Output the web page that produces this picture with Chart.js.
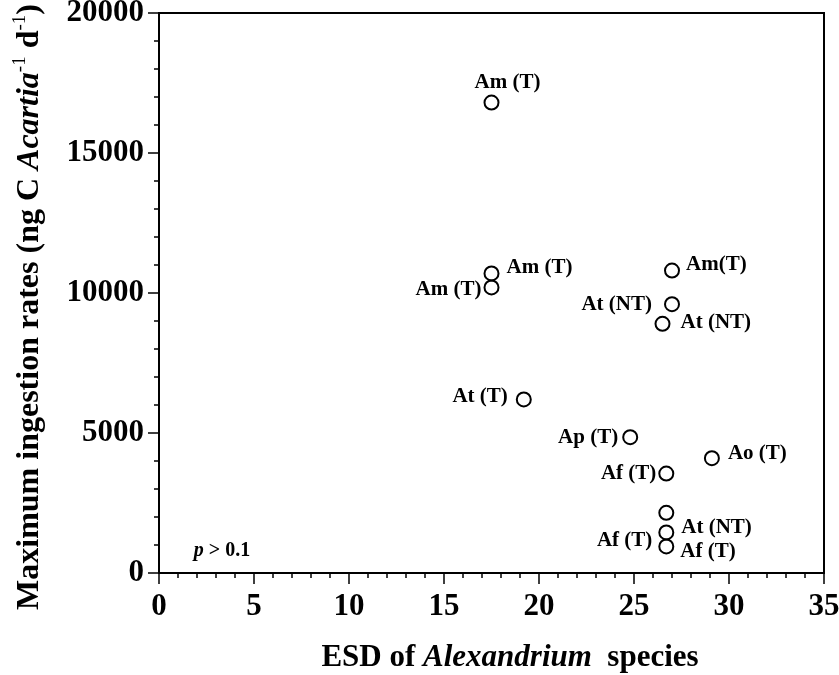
<!DOCTYPE html>
<html>
<head>
<meta charset="utf-8">
<script src="https://cdn.jsdelivr.net/npm/chart.js@4.4.1/dist/chart.umd.min.js"></script>
<style>
  body { margin: 0; background: #fff; }
  canvas { display: block; }
</style>
</head>
<body>
<canvas id="myChart" width="839" height="675"></canvas>
<script>
// Data
const esd = [17.5, 17.5, 17.5, 27.0, 27.0, 26.5, 19.2, 24.8, 29.1, 26.7, 26.7, 26.7, 26.7];
const ingestion = [16800, 10700, 10200, 10800, 9600, 8900, 6200, 4850, 4100, 3550, 2150, 1450, 950];
const pointLabels = ['Am (T)', 'Am (T)', 'Am (T)', 'Am(T)', 'At (NT)', 'At (NT)', 'At (T)',
                     'Ap (T)', 'Ao (T)', 'Af (T)', 'At (NT)', 'Af (T)', 'Af (T)'];
const xTicks = [0, 5, 10, 15, 20, 25, 30, 35];
const yTicks = [0, 5000, 10000, 15000, 20000];

// where each label sits relative to its circle: [dx, dy, align]
const labelPlace = [
	[16, -20, 'center'], [15, -6, 'left'], [-10, 2, 'right'], [14, -6, 'left'],
	[-20, 0, 'right'], [18, -1, 'left'], [-16, -3, 'right'], [-12, 0, 'right'],
	[16, -5, 'left'], [-10, 0, 'right'], [15, 15, 'left'], [-14, 8, 'right'], [14, 5, 'left']
];

const serif = '"Liberation Serif", "Times New Roman", serif';

let points = esd.map((x, i) => ({ x: x, y: ingestion[i] }));

// draws a row of text pieces (plain / italic / superscript)
function drawRuns(ctx, runs, x, y, size) {
	const fontFor = (r) => (r.italic ? 'italic ' : '') + (r.sup ? 'normal ' : 'bold ') +
		(r.sup ? Math.round(size * 0.6) : size) + 'px ' + serif;
	let total = 0;
	runs.forEach(r => { ctx.font = fontFor(r); total += ctx.measureText(r.text).width; });
	let cx = x - total / 2;
	ctx.textAlign = 'left';
	ctx.textBaseline = 'alphabetic';
	runs.forEach(r => {
		ctx.font = fontFor(r);
		ctx.fillText(r.text, cx, r.sup ? y - size * 0.42 : y);
		cx += ctx.measureText(r.text).width;
	});
}

const decorations = {
	id: 'decorations',
	afterDraw(chart) {
		const ctx = chart.ctx;
		const a = chart.chartArea;
		const xs = chart.scales.x, ys = chart.scales.y;
		ctx.save();
		ctx.strokeStyle = '#000';
		ctx.fillStyle = '#000';

		// frame
		ctx.lineWidth = 2;
		ctx.strokeRect(a.left, a.top, a.right - a.left, a.bottom - a.top);

		// tick marks, major and minor
		ctx.lineWidth = 1.5;
		ctx.beginPath();
		for (let v = 0; v <= 35; v++) {
			const px = xs.getPixelForValue(v);
			const len = xTicks.includes(v) ? 11 : 5;
			ctx.moveTo(px, a.bottom);
			ctx.lineTo(px, a.bottom + len);
		}
		for (let v = 0; v <= 20000; v += 1000) {
			const py = ys.getPixelForValue(v);
			const len = yTicks.includes(v) ? 11 : 5;
			ctx.moveTo(a.left, py);
			ctx.lineTo(a.left - len, py);
		}
		ctx.stroke();

		// point labels
		ctx.font = 'bold 21px ' + serif;
		ctx.textBaseline = 'middle';
		const meta = chart.getDatasetMeta(0);
		meta.data.forEach((el, i) => {
			const p = labelPlace[i];
			ctx.textAlign = p[2];
			ctx.fillText(pointLabels[i], el.x + p[0], el.y + p[1]);
		});

		// p value note
		drawRuns(ctx, [{ text: 'p', italic: true }, { text: ' > 0.1' }], 222, 556, 20);

		// axis titles
		drawRuns(ctx, [
			{ text: 'ESD of ' }, { text: 'Alexandrium', italic: true }, { text: '  species' }
		], 510, 666, 31);

		ctx.translate(38, 307);
		ctx.rotate(-Math.PI / 2);
		drawRuns(ctx, [
			{ text: 'Maximum ingestion rates (ng C ' }, { text: 'Acartia', italic: true },
			{ text: '-1', sup: true }, { text: ' d' }, { text: '-1', sup: true }, { text: ')' }
		], 0, 0, 32);
		ctx.restore();
	}
};

let ctx = document.getElementById('myChart');

const config = {
	type: 'scatter',
	data: {
		datasets: [{
			data: points,
			pointStyle: 'circle',
			pointRadius: 7,
			pointHoverRadius: 7,
			borderWidth: 2,
			borderColor: '#000',
			backgroundColor: 'rgba(0,0,0,0)'
		}]
	},
	plugins: [decorations],
	options: {
		responsive: false,
		animation: false,
		events: [],
		layout: { padding: { top: 13, right: 15, left: 0, bottom: 0 } },
		plugins: {
			legend: { display: false },
			tooltip: { enabled: false }
		},
		scales: {
			x: {
				type: 'linear',
				min: 0,
				max: 35,
				afterFit: (scale) => {
					scale.height = 102;
					scale.paddingLeft = 0;
					scale.paddingRight = 0;
				},
				afterBuildTicks: (scale) => { scale.ticks = xTicks.map(v => ({ value: v })); },
				ticks: {
					autoSkip: false,
					maxRotation: 0,
					minRotation: 0,
					padding: 4,
					color: '#000',
					font: { family: serif, size: 31, weight: 'bold' }
				},
				grid: { drawOnChartArea: false, drawTicks: true, tickLength: 11, color: 'rgba(0,0,0,0)' },
				border: { display: false }
			},
			y: {
				type: 'linear',
				min: 0,
				max: 20000,
				afterFit: (scale) => {
					scale.width = 159;
					scale.paddingTop = 0;
					scale.paddingBottom = 0;
				},
				afterBuildTicks: (scale) => { scale.ticks = yTicks.map(v => ({ value: v })); },
				ticks: {
					autoSkip: false,
					padding: 4,
					color: '#000',
					font: { family: serif, size: 31, weight: 'bold' },
					callback: (v) => String(v)
				},
				grid: { drawOnChartArea: false, drawTicks: true, tickLength: 11, color: 'rgba(0,0,0,0)' },
				border: { display: false }
			}
		}
	}
};

let myChart = new Chart(ctx, config);
</script>
</body>
</html>
